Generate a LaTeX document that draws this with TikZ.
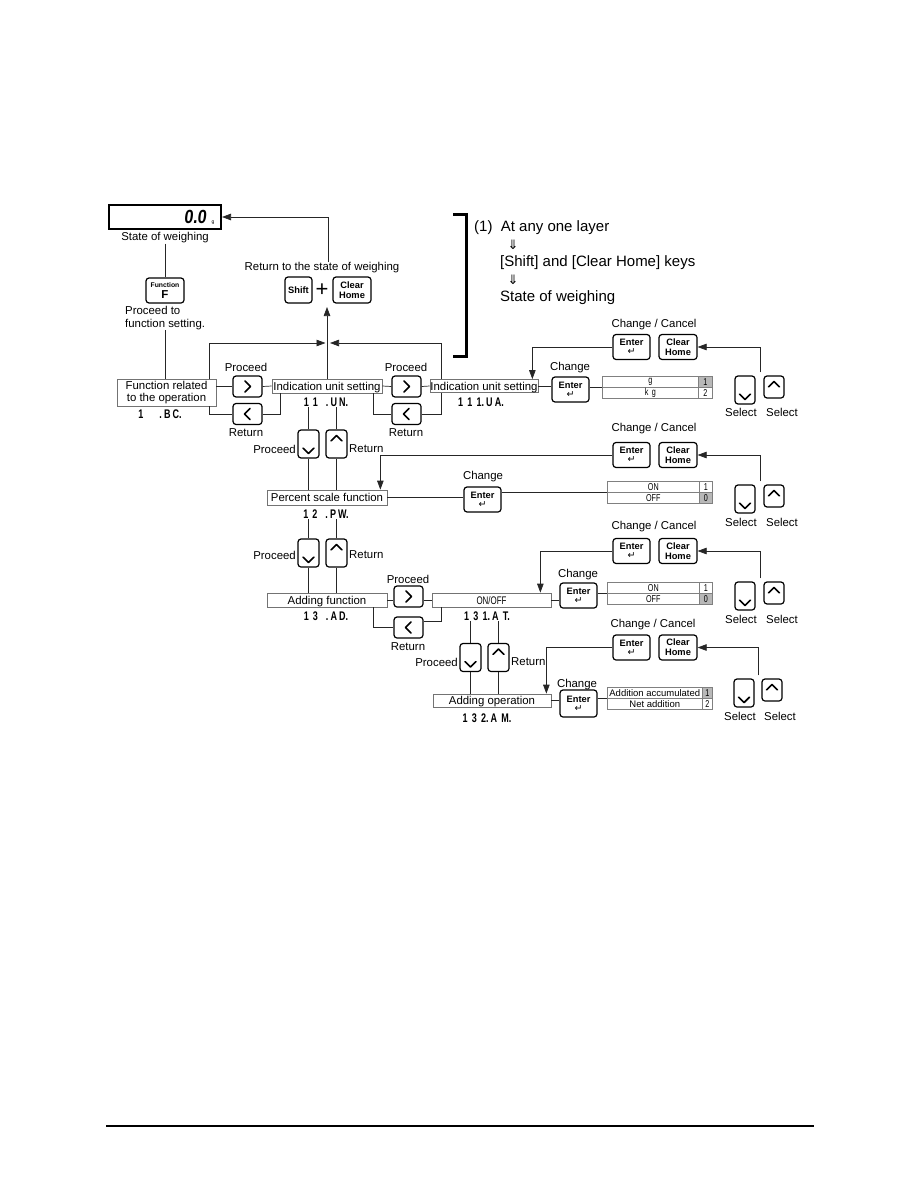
\documentclass[tikz,border=0pt]{standalone}
\usepackage{fontspec}
\setmainfont{Liberation Sans}
\setsansfont{Liberation Sans}
\newfontfamily\symfont{DejaVu Sans}
\newfontfamily\codefont[FakeStretch=0.72]{Liberation Sans}
\newfontfamily\dispfont[FakeStretch=0.85,FakeSlant=0.12]{Liberation Sans}
\usetikzlibrary{arrows.meta,calc}
\newcommand\kchR[1]{\draw[chev] ([xshift=-2.5pt,yshift=5.5pt]#1.center) -- ([xshift=3pt]#1.center) -- ([xshift=-2.5pt,yshift=-5.5pt]#1.center);}
\newcommand\kchL[1]{\draw[chev] ([xshift=2.5pt,yshift=5.5pt]#1.center) -- ([xshift=-3pt]#1.center) -- ([xshift=2.5pt,yshift=-5.5pt]#1.center);}
\newcommand\kchD[1]{\draw[chev] ([xshift=-5.5pt,yshift=10.5pt]#1.south) -- ([yshift=5pt]#1.south) -- ([xshift=5.5pt,yshift=10.5pt]#1.south);}
\newcommand\kchU[1]{\draw[chev] ([xshift=-5.5pt,yshift=-11.5pt]#1.north) -- ([yshift=-6pt]#1.north) -- ([xshift=5.5pt,yshift=-11.5pt]#1.north);}
\newcommand\entertxt{Enter\\[-1pt]{\symfont\mdseries\fontsize{9.5}{9.5}\selectfont ↵}}
\begin{document}
\begin{tikzpicture}[x=1pt,y=-1pt,
 txt/.style={inner sep=0pt, font=\fontsize{11.4}{13}\selectfont},
 bigtxt/.style={inner sep=0pt, anchor=west, font=\fontsize{15}{18}\selectfont},
 arrtxt/.style={inner sep=0pt, font=\symfont\fontsize{13}{13}\selectfont},
 code/.style={inner sep=0pt, font=\codefont\bfseries\fontsize{12.5}{13}\selectfont},
 fbox/.style={draw=black!55, line width=0.7pt, inner sep=0pt, text height=9pt, text depth=1pt, font=\fontsize{11.4}{12.5}\selectfont},
 keybox/.style={draw=black, line width=1.2pt, rounded corners=3pt, inner sep=0pt, align=center, fill=white},
 kf/.style={font=\bfseries\fontsize{9.3}{10}\selectfont},
 rk/.style={keybox, minimum width=29pt, minimum height=21pt},
 vk/.style={keybox, minimum width=21pt, minimum height=28pt},
 sk/.style={keybox, minimum width=20pt, minimum height=28pt},
 suk/.style={keybox, minimum width=20pt, minimum height=22pt},
 ek/.style={keybox, kf, minimum width=37pt, minimum height=25pt},
 conn/.style={line width=0.7pt, draw=black!85},
 arr/.style={conn, -{Triangle[length=9pt,width=6.5pt]}},
 chev/.style={line width=1.6pt, line cap=round, line join=round},
 cell/.style={draw=black!50, line width=0.6pt, inner sep=0pt, anchor=north west, minimum height=11pt, font=\codefont\fontsize{10}{10}\selectfont},
 tcell/.style={cell, font=\fontsize{9.5}{10}\selectfont},
 hl/.style={fill=black!28}
]
\useasboundingbox (0,0) rectangle (918,1188);

% ---------- weighing display ----------
\node[draw, line width=2pt, minimum width=112pt, minimum height=24pt, inner sep=0pt] (disp) at (165,217) {};
\node[inner sep=0pt, font=\dispfont\bfseries\fontsize{19}{19}\selectfont] (dig) at (195,217) {0.0};
\node[inner sep=0pt, font=\fontsize{5}{5}\selectfont] (gu) at (213,223) {g};
\node[txt] (sw) at (165,238) {State of weighing};
\node[keybox, minimum width=38pt, minimum height=25pt] (fk) at (165,290.5) {\bfseries\fontsize{6.8}{7}\selectfont Function\\[-0.5pt]\bfseries\fontsize{11.5}{12}\selectfont F};
\node[txt, anchor=north west, align=left] (pf) at (125,306) {Proceed to\\function setting.};
\draw[conn] (sw.south) -- (fk.north);

% ---------- return to weighing ----------
\node[txt] (rt) at (322,268) {Return to the state of weighing};
\node[keybox, kf, minimum width=27pt, minimum height=26pt] (shk) at (298.5,290) {Shift};
\node[inner sep=0pt, font=\fontsize{22}{22}\selectfont] (plus) at (322,290) {+};
\node[keybox, kf, minimum width=38pt, minimum height=26pt] (chk) at (352,290) {Clear\\Home};
\coordinate (rtop) at (328,262);
\draw[arr] (rtop) |- (disp.east);

% ---------- bracket and note ----------
\coordinate (b1) at (453,214); \coordinate (b2) at (466,214);
\coordinate (b3) at (466,356); \coordinate (b4) at (453,356);
\draw[line width=3pt] (b1) -- (b2) -- (b3) -- (b4);
\node[bigtxt] (n1) at (474,228) {(1)\ \ At any one layer};
\node[arrtxt] (n2) at (513,245) {⇓};
\node[bigtxt] (n3) at (500,263) {[Shift] and [Clear Home] keys};
\node[arrtxt] (n4) at (513,280) {⇓};
\node[bigtxt] (n5) at (500,298) {State of weighing};

% ---------- row 1 ----------
\node[fbox, minimum width=99pt, minimum height=27pt, align=center, text height=, text depth=] (fr) at (166.5,392.5) {Function related\\to the operation};
\node[code] (c1) at (160,414) {1\hspace{16pt}.\,B\,C.};
\draw[conn] (fk.south |- fr.north) -- (fk.south |- pf.south);

\node[rk] (kP1) at (247.5,386.5) {}; \kchR{kP1}
\node[txt] (lP1) at (246,367) {Proceed};
\node[rk] (kR1) at (247.5,414) {}; \kchL{kR1}
\node[txt] (lR1) at (246,433) {Return};

\node[fbox, minimum width=110pt, minimum height=14pt] (ind1) at (327,386) {Indication unit setting};
\node[code] (c2) at (326,402) {1\,\,1\hspace{8pt}.\,U\,N.};

\node[rk] (kP2) at (406.5,386.5) {}; \kchR{kP2}
\node[txt] (lP2) at (406,367) {Proceed};
\node[rk] (kR2) at (406.5,414) {}; \kchL{kR2}
\node[txt] (lR2) at (406,433) {Return};

\node[fbox, minimum width=108pt, minimum height=13pt] (ind2) at (484,386) {Indication unit setting};
\node[code] (c3) at (481,402) {1\,\,1\,\,1.\,U\,A.};

\node[ek] (en1) at (570.5,389.5) {\entertxt};
\node[txt] (lC1) at (570,368) {Change};

\node[cell, minimum width=96pt] (t1a) at (602,376) {g};
\node[cell, hl, minimum width=14pt] (t1an) at (698,376) {1};
\node[cell, minimum width=96pt] (t1b) at (602,387) {k\,\,g};
\node[cell, minimum width=14pt] (t1bn) at (698,387) {2};

\node[txt] (lU1) at (654,325) {Change / Cancel};
\node[ek] (eU1) at (631.5,347) {\entertxt};
\node[keybox, kf, minimum width=38pt, minimum height=25pt] (cU1) at (678,347) {Clear\\Home};
\node[sk] (sD1) at (745,390) {}; \kchD{sD1}
\node[suk] (sU1) at (774,387) {}; \kchU{sU1}
\node[txt] (ls1a) at (741,412) {Select};
\node[txt] (ls1b) at (782,412) {Select};

% row 1 connectors
\coordinate (lx) at (209,343); \coordinate (jl) at (325.5,343);
\coordinate (rx) at (441,343); \coordinate (jr) at (330,343);
\coordinate (uptip) at (327,307);
\draw[arr] (fr.north -| lx) -- (lx) -- (jl);
\draw[arr] (ind2.north -| rx) -- (rx) -- (jr);
\draw[arr] (ind1.north) -- (uptip);
\draw[conn] (fr.east |- kP1.west) -- (kP1.west);
\draw[conn] (kP1.east) -- (ind1.west);
\draw[conn] (ind1.east) -- (kP2.west);
\draw[conn] (kP2.east) -- (ind2.west);
\draw[conn] (ind2.east) -- (ind2.east -| en1.west);
\draw[conn] (t1a.south west -| en1.east) -- (t1a.south west);
\coordinate (r1a) at (209,414); \coordinate (r1b) at (280,414);
\coordinate (r2a) at (373,414); \coordinate (r2b) at (441,414);
\draw[conn] (fr.south -| r1a) -- (r1a) -- (kR1.west);
\draw[conn] (kR1.east) -- (r1b) -- (r1b |- ind1.south);
\draw[conn] (ind1.south -| r2a) -- (r2a) -- (kR2.west);
\draw[conn] (kR2.east) -- (r2b) -- (r2b |- ind2.south);
\draw[arr] (eU1.west) -| ($(ind2.north east)+(-6,0)$);
\draw[arr] ([xshift=-3pt,yshift=3pt]sU1.north west) |- (cU1.east);

% ---------- row 2 ----------
\node[vk] (pd1) at (308.5,444) {}; \kchD{pd1}
\node[vk] (ru1) at (336.5,444) {}; \kchU{ru1}
\node[txt, anchor=east] (lpd1) at (296,449) {Proceed};
\node[txt, anchor=west] (lru1) at (349,449) {Return};
\node[fbox, minimum width=120pt, minimum height=15pt] (pct) at (327,497.5) {Percent scale function};
\node[code] (c4) at (326,514) {1\,\,2\hspace{8pt}.\,P\,W.};
\draw[conn] (pd1.north) -- (pd1.north |- c2.south);
\draw[conn] (ru1.north) -- (ru1.north |- c2.south);
\draw[conn] (pd1.south) -- (pd1.south |- pct.north);
\draw[conn] (ru1.south) -- (ru1.south |- pct.north);

\node[ek] (en2) at (482.5,499.5) {\entertxt};
\node[txt] (lC2) at (483,477) {Change};
\node[cell, minimum width=92pt] (t2a) at (607,481) {ON};
\node[cell, minimum width=13pt] (t2an) at (699,481) {1};
\node[cell, minimum width=92pt] (t2b) at (607,492) {OFF};
\node[cell, hl, minimum width=13pt] (t2bn) at (699,492) {0};
\draw[conn] (pct.east) -- (pct.east -| en2.west);
\draw[conn] (t2a.south west -| en2.east) -- (t2a.south west);

\node[txt] (lU2) at (654,429) {Change / Cancel};
\node[ek] (eU2) at (631.5,455) {\entertxt};
\node[keybox, kf, minimum width=38pt, minimum height=25pt] (cU2) at (678,455) {Clear\\Home};
\node[sk] (sD2) at (745,499) {}; \kchD{sD2}
\node[suk] (sU2) at (774,496) {}; \kchU{sU2}
\node[txt] (ls2a) at (741,522) {Select};
\node[txt] (ls2b) at (782,522) {Select};
\draw[arr] (eU2.west) -| ($(pct.north east)+(-7,0)$);
\draw[arr] ([xshift=-3pt,yshift=3pt]sU2.north west) |- (cU2.east);

% ---------- row 3 ----------
\node[vk] (pd2) at (308.5,553) {}; \kchD{pd2}
\node[vk] (ru2) at (336.5,553) {}; \kchU{ru2}
\node[txt, anchor=east] (lpd2) at (296,555) {Proceed};
\node[txt, anchor=west] (lru2) at (349,555) {Return};
\node[fbox, minimum width=120pt, minimum height=14pt] (addf) at (327,600) {Adding function};
\node[code] (c5) at (326,616) {1\,\,3\hspace{8pt}.\,A\,D.};
\draw[conn] (pd2.north) -- (pd2.north |- c4.south);
\draw[conn] (ru2.north) -- (ru2.north |- c4.south);
\draw[conn] (pd2.south) -- (pd2.south |- addf.north);
\draw[conn] (ru2.south) -- (ru2.south |- addf.north);

\node[rk] (kP3) at (408.5,596.5) {}; \kchR{kP3}
\node[txt] (lP3) at (408,579) {Proceed};
\node[rk] (kR3) at (408.5,627.5) {}; \kchL{kR3}
\node[txt] (lR3) at (408,647) {Return};
\node[fbox, minimum width=119pt, minimum height=14pt, font=\codefont\fontsize{11}{12}\selectfont] (onoff) at (491.5,600) {ON/OFF};
\node[code] (c6) at (487,616) {1\,\,3\,\,1.\,A\,\,T.};
\draw[conn] (addf.east) -- (addf.east -| kP3.west);
\draw[conn] (onoff.west -| kP3.east) -- (onoff.west);
\coordinate (r3a) at (373,627.5); \coordinate (r3b) at (441,621);
\draw[conn] (addf.south -| r3a) -- (r3a) -- (kR3.west);
\draw[conn] (kR3.east |- r3b) -- (r3b) -- (r3b |- onoff.south);

\node[ek] (en3) at (578.5,595.5) {\entertxt};
\node[txt] (lC3) at (578,575) {Change};
\node[cell, minimum width=92pt] (t3a) at (607,582) {ON};
\node[cell, minimum width=13pt] (t3an) at (699,582) {1};
\node[cell, minimum width=92pt] (t3b) at (607,593) {OFF};
\node[cell, hl, minimum width=13pt] (t3bn) at (699,593) {0};
\draw[conn] (onoff.east) -- (onoff.east -| en3.west);
\draw[conn] (t3a.south west -| en3.east) -- (t3a.south west);

\node[txt] (lU3) at (654,527) {Change / Cancel};
\node[ek] (eU3) at (631.5,551) {\entertxt};
\node[keybox, kf, minimum width=38pt, minimum height=25pt] (cU3) at (678,551) {Clear\\Home};
\node[sk] (sD3) at (745,596) {}; \kchD{sD3}
\node[suk] (sU3) at (774,593) {}; \kchU{sU3}
\node[txt] (ls3a) at (741,619) {Select};
\node[txt] (ls3b) at (782,619) {Select};
\draw[arr] (eU3.west) -| ($(onoff.north east)+(-11,0)$);
\draw[arr] ([xshift=-3pt,yshift=3pt]sU3.north west) |- (cU3.east);

% ---------- row 4 ----------
\node[vk] (pd3) at (470.5,657.5) {}; \kchD{pd3}
\node[vk] (ru3) at (498.5,657.5) {}; \kchU{ru3}
\node[txt, anchor=east] (lpd3) at (458,662) {Proceed};
\node[txt, anchor=west] (lru3) at (511,662) {Return};
\node[fbox, minimum width=118pt, minimum height=13pt] (addop) at (492,700.5) {Adding operation};
\node[code] (c7) at (487,718) {1\,\,3\,\,2.\,A\,\,M.};
\draw[conn] (pd3.north) -- (pd3.north |- c6.south);
\draw[conn] (ru3.north) -- (ru3.north |- c6.south);
\draw[conn] (pd3.south) -- (pd3.south |- addop.north);
\draw[conn] (ru3.south) -- (ru3.south |- addop.north);

\node[ek, minimum height=27pt] (en4) at (578.5,703.5) {\entertxt};
\node[txt] (lC4) at (577,685) {Change};
\node[tcell, minimum width=95pt] (t4a) at (607,687) {Addition accumulated};
\node[cell, hl, minimum width=10pt] (t4an) at (702,687) {1};
\node[tcell, minimum width=95pt] (t4b) at (607,698) {Net addition};
\node[cell, minimum width=10pt] (t4bn) at (702,698) {2};
\draw[conn] (addop.east) -- (addop.east -| en4.west);
\draw[conn] (t4a.south west -| en4.east) -- (t4a.south west);

\node[txt] (lU4) at (653,625) {Change / Cancel};
\node[ek] (eU4) at (631.5,647.5) {\entertxt};
\node[keybox, kf, minimum width=38pt, minimum height=25pt] (cU4) at (678,647.5) {Clear\\Home};
\node[sk] (sD4) at (744,693) {}; \kchD{sD4}
\node[suk] (sU4) at (772,690) {}; \kchU{sU4}
\node[txt] (ls4a) at (740,716) {Select};
\node[txt] (ls4b) at (780,716) {Select};
\draw[arr] (eU4.west) -| ($(addop.north east)+(-5,0)$);
\draw[arr] ([xshift=-3pt,yshift=3pt]sU4.north west) |- (cU4.east);

% ---------- footer rule ----------
\coordinate (bl1) at (106,1126); \coordinate (bl2) at (814,1126);
\draw[line width=1.3pt] (bl1) -- (bl2);
\end{tikzpicture}
\end{document}
